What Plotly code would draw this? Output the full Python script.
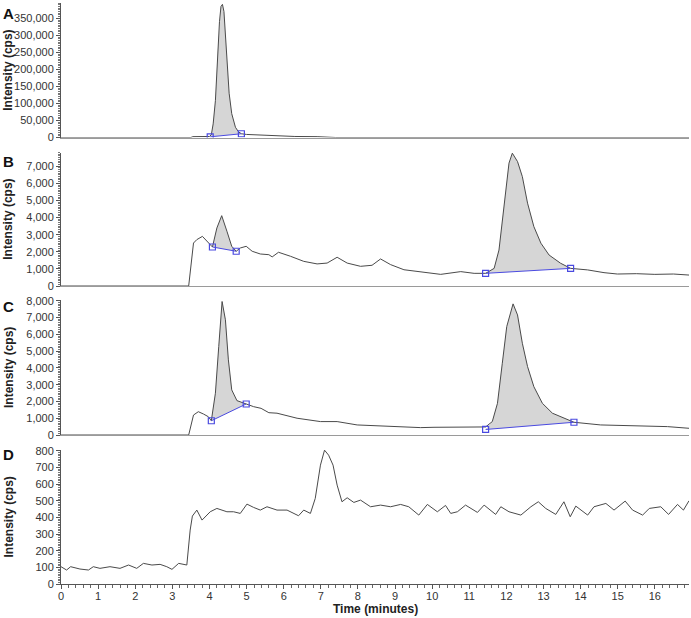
import plotly.graph_objects as go

# ---------------- data ----------------
x_tick_vals = list(range(0, 17))

# Panel A
a_time = [0, 3.5, 3.55, 3.9, 4.0, 4.05, 4.1, 4.16, 4.22, 4.27, 4.31, 4.35, 4.39, 4.43,
          4.48, 4.53, 4.6, 4.7, 4.78, 4.86, 5.0, 5.4, 5.8, 6.3, 6.9, 7.3, 7.4, 16.92]
a_int = [0, 0, 2500, 2500, 3000, 8000, 40000, 108000, 250000, 340000, 385000, 391000, 370000, 300000,
         200000, 130000, 70000, 30000, 17000, 11000, 9000, 6500, 4500, 3000, 2500, 2000, 0, 0]
a_base_time = [[4.02, 4.86]]
a_base_int = [[2000, 11000]]

# Panel B
b_time = [0, 3.44, 3.57, 3.66, 3.81, 3.93, 4.08, 4.2, 4.33, 4.47, 4.6, 4.72, 4.83, 4.99, 5.15, 5.37,
          5.6, 5.69, 5.86, 6.18, 6.54, 6.9, 7.17, 7.44, 7.71, 8.07, 8.38, 8.61, 8.88, 9.24, 9.69,
          10.23, 10.77, 11.13, 11.44, 11.67, 11.8, 11.89, 11.98, 12.07, 12.16, 12.3, 12.43, 12.57,
          12.74, 12.93, 13.15, 13.46, 13.73, 14.19, 14.63, 14.99, 15.5, 16.0, 16.5, 16.92]
b_int = [0, 0, 2510, 2710, 2900, 2610, 2280, 3390, 4110, 3200, 2320, 2030, 2220, 2320, 2030, 1870,
         1830, 1700, 1970, 1740, 1440, 1290, 1340, 1680, 1340, 1150, 1210, 1580, 1250, 950, 830,
         680, 840, 740, 740, 1030, 2100, 3860, 5810, 7180, 7760, 7270, 6390, 4840,
         3470, 2500, 1810, 1330, 1030, 940, 780, 700, 720, 680, 700, 640]
b_base_time = [[4.08, 4.72], [11.44, 13.73]]
b_base_int = [[2280, 2030], [740, 1030]]

# Panel C
c_time = [0, 3.44, 3.57, 3.7, 3.84, 3.97, 4.05, 4.16, 4.25, 4.34, 4.43, 4.51, 4.6, 4.74, 4.99,
          5.19, 5.39, 5.6, 5.82, 6.36, 6.99, 7.44, 7.98, 8.79, 9.69, 10.05, 10.95, 11.44, 11.62,
          11.76, 11.89, 12.01, 12.18, 12.3, 12.43, 12.57, 12.74, 12.97, 13.24, 13.82, 14.54,
          15.44, 16.34, 16.92]
c_int = [0, 0, 1190, 1390, 1250, 1090, 850, 2490, 5270, 7960, 6870, 4480, 2690, 2050, 1850,
         1690, 1590, 1330, 1300, 1000, 800, 800, 600, 540, 440, 460, 500, 480, 800,
         1890, 4280, 6470, 7820, 7160, 5470, 4080, 2880, 1890, 1300, 760, 600,
         540, 500, 400]
c_base_time = [[4.05, 4.99], [11.44, 13.82]]
c_base_int = [[850, 1850], [330, 760]]

# Panel D
d_time = [0, 0.15, 0.26, 0.51, 0.74, 0.87, 1.05, 1.32, 1.59, 1.82, 2.04, 2.22, 2.45, 2.67, 2.85,
          2.99, 3.17, 3.39, 3.48, 3.54, 3.66, 3.8, 4.02, 4.2, 4.47, 4.65, 4.83, 5.01, 5.19, 5.37,
          5.55, 5.82, 6.09, 6.4, 6.54, 6.72, 6.85, 6.99, 7.1, 7.21, 7.33, 7.44, 7.57, 7.71, 7.89,
          8.07, 8.34, 8.61, 8.88, 9.15, 9.37, 9.64, 9.87, 10.14, 10.36, 10.5, 10.68, 10.9, 11.22,
          11.4, 11.71, 11.85, 12.07, 12.39, 12.66, 12.86, 13.06, 13.33, 13.55, 13.72, 13.87,
          14.19, 14.36, 14.68, 14.9, 15.2, 15.4, 15.67, 15.85, 16.16, 16.37, 16.61, 16.77, 16.92]
d_int = [104, 84, 104, 90, 84, 104, 94, 104, 94, 114, 94, 124, 114, 118, 104,
         88, 124, 114, 324, 408, 444, 384, 434, 454, 434, 434, 424, 480, 460, 444,
         464, 444, 444, 410, 444, 424, 514, 714, 804, 774, 714, 594, 494, 518, 490,
         504, 464, 474, 464, 478, 464, 414, 478, 434, 472, 424, 434, 474, 430,
         474, 418, 464, 434, 414, 464, 494, 454, 418, 494, 404, 468,
         414, 464, 484, 444, 498, 444, 414, 454, 464, 418, 478, 444, 500]

# ---------------- styling ----------------
LINE = "#4a4a4a"
FILL = "#d6d6d6"
BLUE = "#4a4ae0"
FONT = "Liberation Sans, Arial, sans-serif"

L, R, T, B = 61, 2, 3, 34
W, H = 691, 618
PH = H - T - B


def py(p):
    return (H - B - p) / PH


domains = [
    [py(137.5), 1.0],
    [py(286), py(152.5)],
    [py(435), py(300)],
    [0.0, py(450)],
]

panels = [
    (a_time, a_int, a_base_time, a_base_int, [0, 395000], 50000, 5000),
    (b_time, b_int, b_base_time, b_base_int, [0, 7800], 1000, 100),
    (c_time, c_int, c_base_time, c_base_int, [0, 8050], 1000, 100),
    (d_time, d_int, [], [], [0, 805], 100, 10),
]

fig = go.Figure()
layout = dict(
    width=W, height=H,
    margin=dict(l=L, r=R, t=T, b=B, autoexpand=False),
    paper_bgcolor="white", plot_bgcolor="white",
    showlegend=False,
    font=dict(family=FONT, size=11, color="#333"),
)

annotations = []
letters = ["A", "B", "C", "D"]
letter_tops = [3, 151, 296, 444]

for i, (t, v, bts, bis, yr, dt, mdt) in enumerate(panels):
    n = i + 1
    xa = "x" if n == 1 else f"x{n}"
    ya = "y" if n == 1 else f"y{n}"
    # peak fills
    for bt, bi in zip(bts, bis):
        xs = [bt[0]] + [ti for ti in t if bt[0] < ti < bt[1]] + [bt[1]]
        ys = [bi[0]] + [vi for ti, vi in zip(t, v) if bt[0] < ti < bt[1]] + [bi[1]]
        fig.add_trace(go.Scatter(x=xs, y=ys, fill="toself", fillcolor=FILL,
                                 line=dict(width=0), mode="lines", hoverinfo="skip",
                                 xaxis=xa, yaxis=ya))
    # chromatogram trace
    fig.add_trace(go.Scatter(x=t, y=v, mode="lines", line=dict(color=LINE, width=1),
                             xaxis=xa, yaxis=ya))
    # baselines
    for bt, bi in zip(bts, bis):
        fig.add_trace(go.Scatter(x=bt, y=bi, mode="lines+markers",
                                 line=dict(color=BLUE, width=1),
                                 marker=dict(symbol="square-open", size=6,
                                             color=BLUE, line=dict(width=1.2)),
                                 xaxis=xa, yaxis=ya))

    xkey = "xaxis" if n == 1 else f"xaxis{n}"
    ykey = "yaxis" if n == 1 else f"yaxis{n}"
    xdict = dict(range=[0, 16.92], domain=[0, 1], anchor=ya, showgrid=False,
                 zeroline=False, showline=True, linewidth=1, fixedrange=True,
                 automargin=False)
    if n < 4:
        xdict.update(linecolor="#9a9a9a", showticklabels=False, ticks="")
        xdict["matches"] = "x4"
    else:
        xdict.update(linecolor="#555", ticks="outside", ticklen=4, tickcolor="#555",
                     tickvals=x_tick_vals, tickfont=dict(size=11, color="#333"),
                     ticklabelstandoff=-2,
                     minor=dict(ticks="outside", ticklen=3, dtick=0.2, tick0=0,
                                tickcolor="#666"))
    layout[xkey] = xdict
    layout[ykey] = dict(range=yr, domain=domains[i], anchor=xa, showgrid=False,
                        zeroline=False, showline=True, linecolor="#555", linewidth=1,
                        ticks="outside", ticklen=4, tickcolor="#555", dtick=dt, tick0=0,
                        tickformat=",d", tickfont=dict(size=11, color="#333"),
                        minor=dict(ticks="outside", ticklen=2, dtick=mdt, tick0=0,
                                   tickcolor="#777"),
                        fixedrange=True, automargin=False)
    # y title
    annotations.append(dict(text="<b>Intensity (cps)</b>", xref="paper", yref="paper",
                            x=(8.5 - L) / (W - L - R), y=sum(domains[i]) / 2,
                            xanchor="center", yanchor="middle", textangle=-90,
                            showarrow=False, font=dict(size=12, color="#222", family=FONT)))
    annotations.append(dict(text=f"<b>{letters[i]}</b>", xref="paper", yref="paper",
                            x=(1 - L) / (W - L - R), y=py(letter_tops[i]),
                            xanchor="left", yanchor="top", showarrow=False,
                            font=dict(size=15, color="#111", family=FONT)))

annotations.append(dict(text="<b>Time (minutes)</b>", xref="paper", yref="paper",
                        x=0.5, y=py(618), xanchor="center", yanchor="bottom",
                        showarrow=False, font=dict(size=12, color="#222", family=FONT)))
layout["annotations"] = annotations
fig.update_layout(**layout)
fig.write_html("out.html", config={"displayModeBar": False},
               post_script="document.body.style.margin='0';document.body.style.overflow='hidden';")
